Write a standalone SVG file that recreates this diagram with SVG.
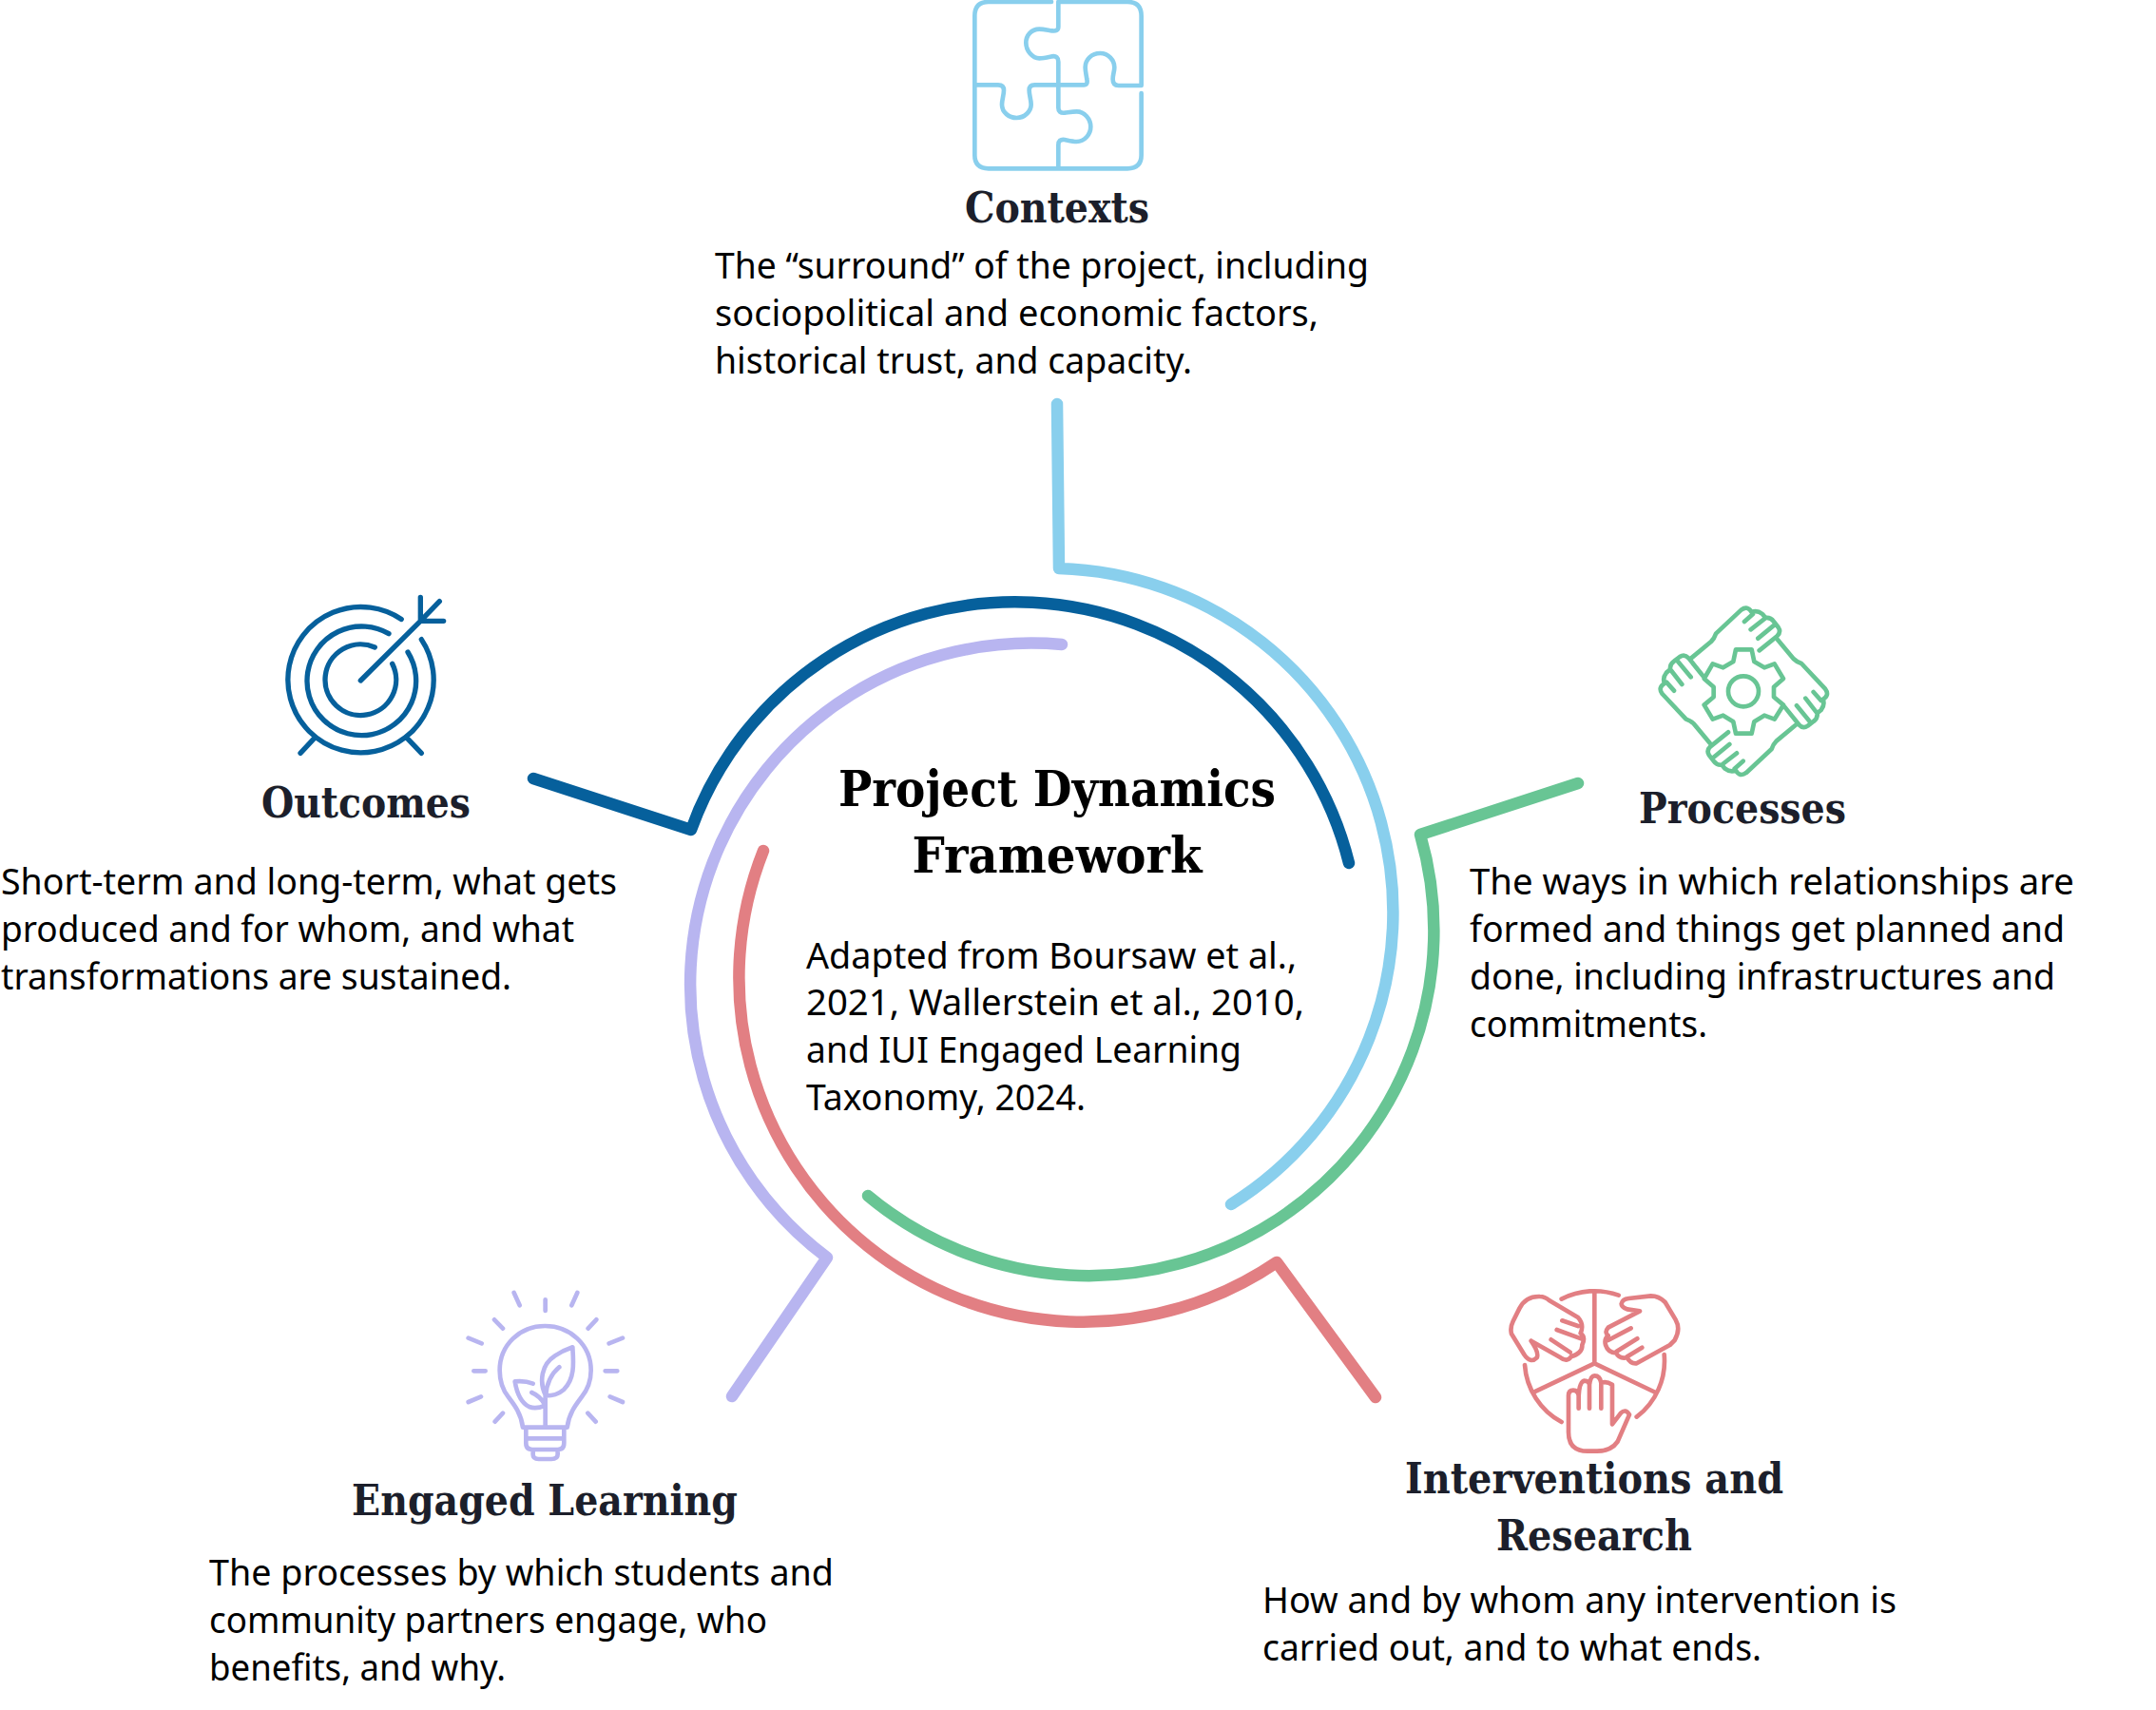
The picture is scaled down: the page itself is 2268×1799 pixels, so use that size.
<svg xmlns="http://www.w3.org/2000/svg" width="2268" height="1799" viewBox="0 0 2268 1799">
<style>
.h{font-family:"DejaVu Serif Condensed","DejaVu Serif",serif;font-weight:700;font-stretch:condensed;font-size:45px;fill:#1c1f2b;text-anchor:middle}
.m{font-size:52px;fill:#000}
.t{font-family:"Noto Sans","Open Sans",sans-serif;font-size:39px;fill:#000}
.c{fill:none;stroke-width:12.5;stroke-linecap:round;stroke-linejoin:round}
.i{fill:none;stroke-width:14;stroke-linecap:round;stroke-linejoin:round}
.blue{stroke:#89CFED}.navy{stroke:#06609C}.green{stroke:#68C594}.red{stroke:#E27F83}.lav{stroke:#B8B5F0}
</style>
<defs>
<path id="hand" d="M180,215 L240,165 Q250,155 255,140 L335,65 Q355,50 368,72 Q385,65 402,78 L412,90 Q428,88 438,102 L452,120 Q462,135 448,148 L392,193 M345,102 L372,78 M365,127 L410,92 M388,155 L440,112"/>
</defs>
<rect width="2268" height="1799" fill="#fff"/>
<g id="connectors">
<path class="c blue" d="M1112,425 L1114,598 A362,362 0 0 1 1295,1267"/>
<path class="c navy" d="M561,819 L727,873 A362,362 0 0 1 1419,908"/>
<path class="c lav" d="M1117,678 A359,359 0 0 0 870,1323 L770,1469"/>
<path class="c red" d="M803,895 A362,362 0 0 0 1343,1328 L1447,1470"/>
<path class="c green" d="M1660,824 L1494,878 A363,363 0 0 1 913,1258"/>
</g>
<g id="center">
<text class="h m" x="1112" y="848" textLength="460" lengthAdjust="spacingAndGlyphs">Project Dynamics</text>
<text class="h m" x="1112" y="918" textLength="305" lengthAdjust="spacingAndGlyphs">Framework</text>
<text class="t" x="848" y="1019" textLength="516" lengthAdjust="spacingAndGlyphs">Adapted from Boursaw et al.,</text>
<text class="t" x="848" y="1068" textLength="524" lengthAdjust="spacingAndGlyphs">2021, Wallerstein et al., 2010,</text>
<text class="t" x="848" y="1118" textLength="458" lengthAdjust="spacingAndGlyphs">and IUI Engaged Learning</text>
<text class="t" x="848" y="1168" textLength="294" lengthAdjust="spacingAndGlyphs">Taxonomy, 2024.</text>
</g>
<g id="contexts">
<g transform="translate(980,0) scale(.3333)"><path class="i blue" d="M378,6 H180 Q136,6 136,50 V268 H210 Q228,268 228,285 C228,300 222,315 222,330 C222,355 245,372 268,372 C295,372 314,350 314,330 C314,315 308,300 308,285 Q308,268 325,268 H480 Q494,268 490,250 C488,235 485,225 485,212 C485,188 505,168 532,168 C558,168 577,190 577,212 C577,225 572,235 572,250 Q572,270 590,270 H662 V50 Q662,6 618,6 H400 V85 Q400,100 380,97 C370,96 355,92 340,92 C315,92 298,112 298,135 C298,160 318,184 340,184 C355,184 370,180 380,178 Q400,175 400,195 V340 Q400,358 420,356 C435,354 445,352 458,352 C482,352 502,375 502,400 C502,425 482,447 458,447 C445,447 430,443 420,441 Q400,438 400,458 V532 M136,268 V490 Q136,532 180,532 H618 Q662,532 662,490 V294"/></g>
<text class="h" x="1112" y="234" textLength="194" lengthAdjust="spacingAndGlyphs">Contexts</text>
<text class="t" x="752" y="293" textLength="688" lengthAdjust="spacingAndGlyphs">The “surround” of the project, including</text>
<text class="t" x="752" y="343" textLength="635" lengthAdjust="spacingAndGlyphs">sociopolitical and economic factors,</text>
<text class="t" x="752" y="393" textLength="502" lengthAdjust="spacingAndGlyphs">historical trust, and capacity.</text>
</g>
<g id="processes">
<g transform="translate(1720,620) scale(.3333)" class="i green">
<circle cx="342" cy="322" r="48"/>
<path d="M318,190 L368,190 376,228 408,247 440,235 468,282 438,308 438,340 468,365 440,410 408,398 376,418 368,455 318,455 310,418 278,398 245,410 218,365 248,340 248,308 218,282 245,235 278,247 310,228 Z"/>
<use href="#hand"/>
<use href="#hand" transform="rotate(90 343 322)"/>
<use href="#hand" transform="rotate(180 343 322)"/>
<use href="#hand" transform="rotate(270 343 322)"/>
</g>
<text class="h" x="1833" y="866" textLength="218" lengthAdjust="spacingAndGlyphs">Processes</text>
<text class="t" x="1546" y="941" textLength="636" lengthAdjust="spacingAndGlyphs">The ways in which relationships are</text>
<text class="t" x="1546" y="991" textLength="626" lengthAdjust="spacingAndGlyphs">formed and things get planned and</text>
<text class="t" x="1546" y="1041" textLength="616" lengthAdjust="spacingAndGlyphs">done, including infrastructures and</text>
<text class="t" x="1546" y="1091" textLength="250" lengthAdjust="spacingAndGlyphs">commitments.</text>
</g>
<g id="outcomes">
<g transform="translate(280,610) scale(.3333)"><path class="i navy" style="stroke-width:16" d="M426.7,124.5 A230,230 0 1 0 490,188 M387,170 A172,172 0 1 0 447,228 M343,213 A112,112 0 1 0 398,265 M298,318 L487,130 M487,55 V130 M547,68 L487,130 M560,130 H487 M108,547 L152,500 M490,547 L445,500"/></g>
<text class="h" x="385" y="860" textLength="220" lengthAdjust="spacingAndGlyphs">Outcomes</text>
<text class="t" x="1" y="941" textLength="648" lengthAdjust="spacingAndGlyphs">Short-term and long-term, what gets</text>
<text class="t" x="1" y="991" textLength="603" lengthAdjust="spacingAndGlyphs">produced and for whom, and what</text>
<text class="t" x="1" y="1041" textLength="537" lengthAdjust="spacingAndGlyphs">transformations are sustained.</text>
</g>
<g id="engaged-learning">
<g transform="translate(470,1340) scale(.3333)"><path class="i lav" d="M212,60 L230,100 M311,82 V117 M412,60 L394,100 M150,145 L177,173 M472,145 L446,173 M68,203 L110,220 M555,203 L512,220 M85,307 H122 M500,307 H538 M68,405 L108,388 M555,405 L515,388 M152,467 L177,440 M470,467 L445,440 M240,485 C235,440 210,410 195,390 C175,365 167,335 167,305 C167,225 230,165 310,165 C390,165 455,225 455,305 C455,335 445,365 425,390 C410,410 385,440 380,485 Z M250,487 V535 Q250,555 270,555 H350 Q370,555 370,535 V487 M250,520 H370 M272,558 V570 Q272,585 290,585 H330 Q350,585 350,570 V558 M312,385 C290,340 300,285 340,260 Q365,243 397,232 C400,280 405,330 370,365 C350,382 335,385 312,385 M355,295 C325,320 315,350 312,385 M311,480 V385 M272,347 C255,340 235,338 215,340 C220,370 230,405 260,420 C280,428 295,423 311,415 M268,375 C285,382 300,395 311,415"/></g>
<text class="h" x="573" y="1594" textLength="406" lengthAdjust="spacingAndGlyphs">Engaged Learning</text>
<text class="t" x="220" y="1668" textLength="657" lengthAdjust="spacingAndGlyphs">The processes by which students and</text>
<text class="t" x="220" y="1718" textLength="587" lengthAdjust="spacingAndGlyphs">community partners engage, who</text>
<text class="t" x="220" y="1768" textLength="312" lengthAdjust="spacingAndGlyphs">benefits, and why.</text>
</g>
<g id="interventions">
<g transform="translate(1570,1340) scale(.3333)"><path class="i red" d="M218,80 A225,225 0 0 1 398,68 M542,255 A222,222 0 0 1 455,452 M102,288 A222,222 0 0 0 218,468 M322,55 V283 L132,373 M322,283 L515,375 M122,212 L215,265 Q235,280 248,262 Q285,250 283,225 Q295,200 278,188 Q290,160 270,138 L180,85 Q165,72 150,72 Q105,70 85,110 L65,150 Q55,170 60,190 L100,255 Q120,285 140,265 Q148,250 122,212 M220,148 L270,165 M203,177 L280,205 M185,208 L245,248 M465,118 L425,112 Q407,105 407,95 Q410,80 430,78 L500,70 Q525,70 545,90 L578,145 Q595,175 575,210 L560,225 L455,283 Q435,285 425,265 Q400,270 390,250 Q365,250 357,225 Q352,205 365,195 Q352,185 365,170 L465,118 M437,172 L365,210 M457,205 L392,245 M472,233 L425,262 M272,425 V385 Q270,368 255,368 Q240,368 240,385 V500 Q240,560 300,560 H330 Q375,560 395,530 L432,445 Q420,425 405,440 L378,475 V350 Q358,338 343,345 Q340,322 322,322 Q310,322 306,350 Q305,338 290,338 Q275,340 272,385 M306,350 V425 M343,345 V425"/></g>
<text class="h" x="1677" y="1571" textLength="398" lengthAdjust="spacingAndGlyphs">Interventions and</text>
<text class="h" x="1677" y="1631" textLength="206" lengthAdjust="spacingAndGlyphs">Research</text>
<text class="t" x="1328" y="1697" textLength="667" lengthAdjust="spacingAndGlyphs">How and by whom any intervention is</text>
<text class="t" x="1328" y="1747" textLength="525" lengthAdjust="spacingAndGlyphs">carried out, and to what ends.</text>
</g>
</svg>
